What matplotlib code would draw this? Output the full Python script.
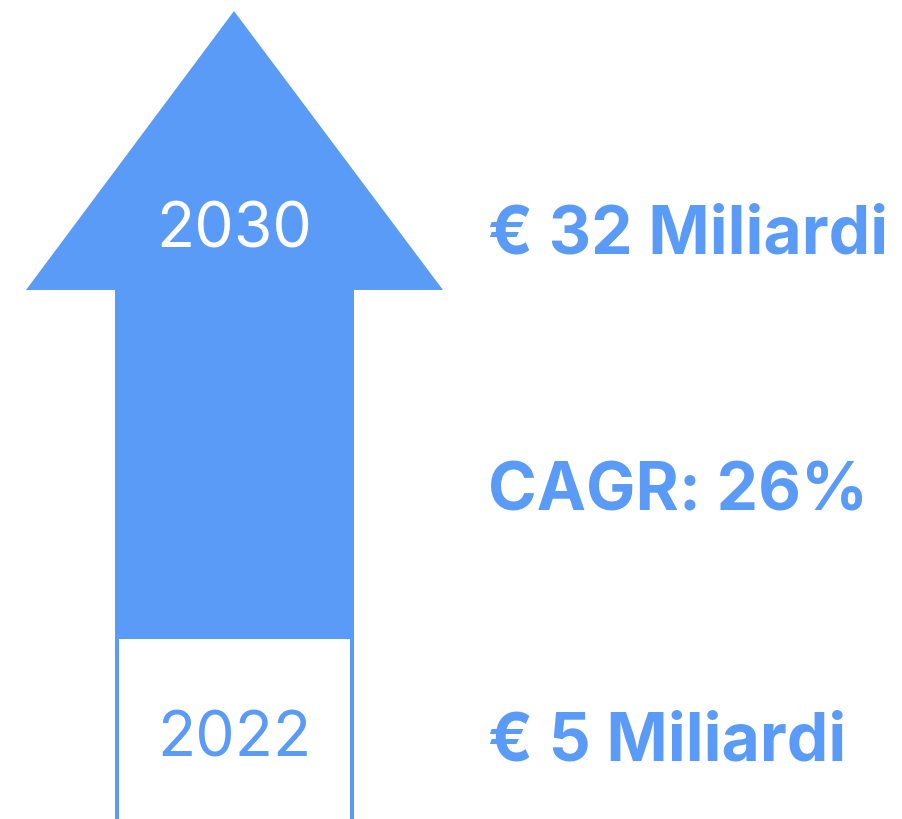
import matplotlib.pyplot as plt
from matplotlib.patches import Polygon

# ---- DATA ---------------------------------------------------------------
years = ["2022", "2030"]
values = [5, 32]          # miliardi di euro
cagr = 26                 # %

blue = "#5B9BF8"
plt.rcParams["font.family"] = ["Inter", "DejaVu Sans"]

fig = plt.figure(figsize=(9.03, 8.2), dpi=100)
ax = fig.add_axes([0, 0, 1, 1])
ax.set_xlim(0, 903)
ax.set_ylim(820, 0)
ax.axis("off")

# arrow (head + shaft)
arrow = Polygon(
    [(234, 12), (443, 291), (354, 291), (354, 640),
     (115, 640), (115, 291), (26, 291)],
    closed=True, facecolor=blue, edgecolor="none",
)
ax.add_patch(arrow)

# open box under the arrow
ax.plot([117, 117], [638, 822], color=blue, lw=2.9, solid_capstyle="butt")
ax.plot([352, 352], [638, 822], color=blue, lw=2.9, solid_capstyle="butt")

# year labels
ax.text(234, 248, years[1], color="white", fontsize=45, ha="center",
        va="baseline", fontweight="normal")
ax.text(234, 757, years[0], color=blue, fontsize=45, ha="center",
        va="baseline", fontweight="normal")

# right-hand labels
label_kw = dict(color=blue, fontsize=47.5, ha="left", va="baseline",
                fontweight="bold")
ax.text(488, 253, f"€ {values[1]} Miliardi", **label_kw)
ax.text(488, 511, f"CAGR: {cagr}%", **label_kw)
ax.text(488, 761, f"€ {values[0]} Miliardi", **label_kw)

fig.savefig("out.png", dpi=100)
